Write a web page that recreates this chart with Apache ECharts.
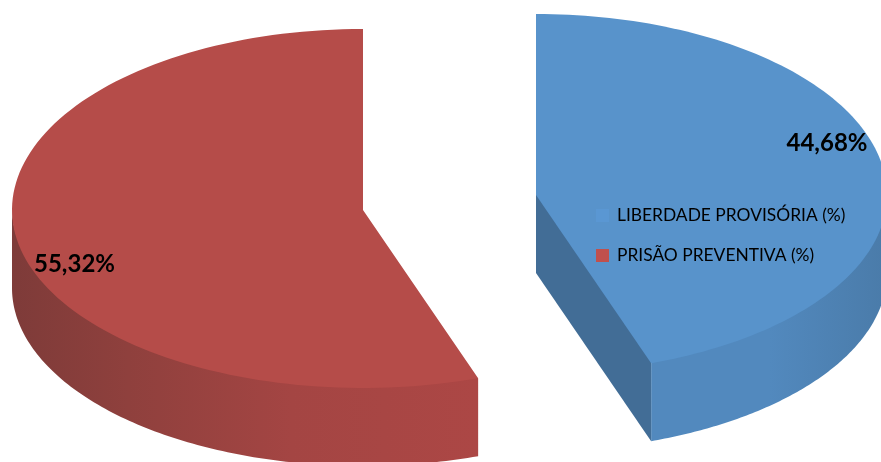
<!DOCTYPE html>
<html>
<head>
<meta charset="UTF-8">
<style>html,body{margin:0;padding:0;background:#fff;}</style>
</head>
<body>
<div id="chart" style="width:881px;height:462px;"></div>
<script src="https://cdn.jsdelivr.net/npm/echarts@6/dist/echarts.min.js"></script>
<script>
var categories = ['LIBERDADE PROVISÓRIA (%)', 'PRISÃO PREVENTIVA (%)'];
var values = [44.68, 55.32];
var total = values[0] + values[1];

var myChart = echarts.init(document.getElementById('chart'), null, {renderer: 'canvas'});

// flat tilted disc: back half of the ellipse is a little taller than the front
var RX = 351, RY_BACK = 181, RY_FRONT = 178, DEPTH = 78;

function pt(s, dir, deg, dy) {
	var a = deg * Math.PI / 180, c = Math.cos(a);
	return [s.cx + dir * RX * Math.sin(a), s.cy - c * (c > 0 ? RY_BACK : RY_FRONT) + (dy || 0)];
}

function arc(s, dir, from, to, dy) {
	var pts = [], n = 120;
	for (var i = 0; i <= n; i++) {
		pts.push(pt(s, dir, from + (to - from) * i / n, dy));
	}
	return pts;
}

function sideGradient(stops) {
	return new echarts.graphic.LinearGradient(0, 0, 1, 0, stops);
}

function slice(idx, s) {
	return {
		name: categories[idx],
		type: 'custom',
		coordinateSystem: 'none',
		silent: true,
		animation: false,
		itemStyle: {color: s.color},
		data: [values[idx]],
		renderItem: function (params, api) {
			var value = api.value(0);
			var sweep = value / total * 360;
			var kids = [];
			var end = pt(s, s.dir, sweep);
			// rim, starts a bit under the top face so no pale seam shows
			var rimTop = arc(s, s.dir, 90, sweep, -3);
			rimTop[rimTop.length - 1] = end;
			var rimBottom = arc(s, s.dir, 90, sweep, DEPTH).reverse();
			kids.push({type: 'polygon', shape: {points: rimTop.concat(rimBottom)}, style: {fill: sideGradient(s.rim)}});
			// cut face, only the blue one looks at us
			var apex = [s.cx, s.cy];
			if (s.cut) {
				kids.push({type: 'polygon', shape: {points: [[apex[0], apex[1] - 3], [end[0], end[1] - 3], [end[0], end[1] + DEPTH], [apex[0], apex[1] + DEPTH]]}, style: {fill: s.cut}});
			}
			// top face
			kids.push({type: 'polygon', shape: {points: [apex].concat(arc(s, s.dir, 0, sweep))}, style: {fill: s.top}});
			kids.push({
				type: 'text',
				x: s.labelX,
				y: s.labelY,
				style: {
					text: value.toFixed(2).replace('.', ',') + '%',
					font: 'bold 24px Lato',
					fill: '#000',
					textAlign: 'center',
					textVerticalAlign: 'middle'
				}
			});
			return {type: 'group', children: kids};
		}
	};
}

var option = {
	animation: false,
	legend: {
		data: categories,
		orient: 'vertical',
		left: 596 - 5,
		top: 202,
		padding: 5,
		itemWidth: 13,
		itemHeight: 13,
		itemGap: 23,
		icon: 'rect',
		selectedMode: false,
		textStyle: {fontFamily: 'Lato', fontSize: 17.4, color: '#000', padding: [0, 0, 0, 3]}
	},
	series: [
		slice(0, {
			cx: 536, cy: 195, dir: 1, color: '#5A97D3', top: '#5893CB', cut: '#426D96', labelX: 827, labelY: 143,
			rim: [{offset: 0, color: '#5289BE'}, {offset: 0.5, color: '#5289BE'}, {offset: 1, color: '#4A7BA9'}]
		}),
		slice(1, {
			cx: 363, cy: 210, dir: -1, color: '#C0504D', top: '#B54C49', labelX: 74.5, labelY: 264,
			rim: [{offset: 0, color: '#7E3B39'}, {offset: 0.25, color: '#8F403D'}, {offset: 0.6, color: '#A44543'}, {offset: 1, color: '#AC4745'}]
		})
	]
};
myChart.setOption(option, true);
</script>
</body>
</html>
